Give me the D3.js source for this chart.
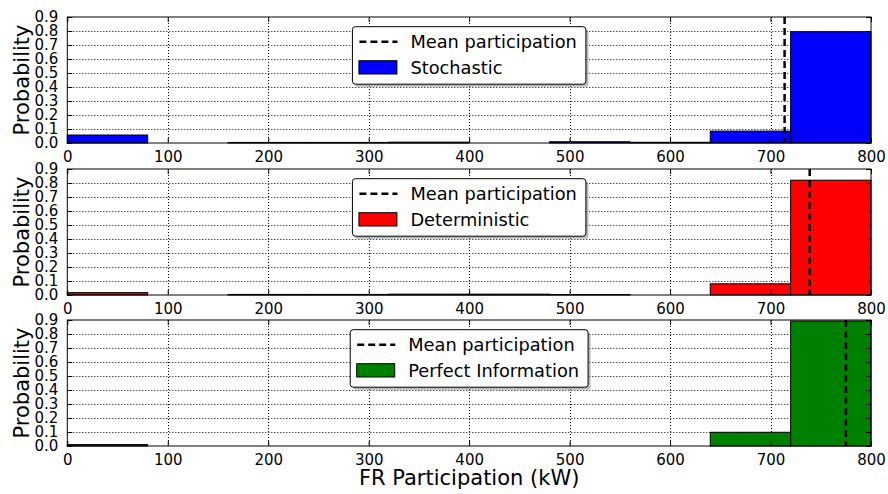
<!DOCTYPE html>
<html><head><meta charset="utf-8">
<script src="https://cdn.jsdelivr.net/npm/d3@7"></script>
<style>body{margin:0;background:#fff}svg{display:block;font-family:"DejaVu Sans",sans-serif}</style>
</head><body><svg id="c" width="888" height="494"></svg>
<script>
const binEdges = [0,80,160,240,320,400,480,560,640,720,800];
const stochastic    = [0.057,0,0.004,0.004,0.006,0,0.009,0.005,0.085,0.795];
const deterministic = [0.017,0,0.004,0.004,0.006,0.006,0.003,0,0.080,0.820];
const perfectInfo   = [0.010,0,0,0,0,0,0,0,0.098,0.893];
const meanValues = [714, 739, 775];
const seriesNames = ["Stochastic","Deterministic","Perfect Information"];
const seriesColors = ["#0000ff","#ff0000","#008000"];
const xTicks = [0,100,200,300,400,500,600,700,800];
const yTicks = [0,0.1,0.2,0.3,0.4,0.5,0.6,0.7,0.8,0.9];
const meanLabel = "Mean participation";
const yLabel = "Probability";
const xLabel = "FR Participation (kW)";

const allSeries = [stochastic, deterministic, perfectInfo];
const svg = d3.select("#c");
const left = 67.3, right = 871;
const tops = [17, 169, 320];
const ph = 126;

const x = d3.scaleLinear().domain([0,800]).range([left,right]);

allSeries.forEach((vals, i) => {
  const top = tops[i], bot = top + ph;
  const y = d3.scaleLinear().domain([0,0.9]).range([bot, top]);
  const g = svg.append("g");
  // grid
  g.selectAll(".gx").data(xTicks.slice(1,-1)).enter().append("line")
    .attr("x1", d=>Math.round(x(d))+0.5).attr("x2", d=>Math.round(x(d))+0.5).attr("y1", top).attr("y2", bot)
    .attr("stroke","#000").attr("stroke-width",1).attr("stroke-dasharray","1,2");
  g.selectAll(".gy").data(yTicks.slice(1,-1)).enter().append("line")
    .attr("x1", left).attr("x2", right).attr("y1", d=>Math.round(y(d))+0.5).attr("y2", d=>Math.round(y(d))+0.5)
    .attr("stroke","#000").attr("stroke-width",1).attr("stroke-dasharray","1,2");
  // bars
  const bins = vals.map((v,k)=>({x0:binEdges[k], x1:binEdges[k+1], v})).filter(b=>b.v>0);
  g.selectAll(".bar").data(bins).enter().append("rect")
    .attr("x", d=>x(d.x0)).attr("width", d=>x(d.x1)-x(d.x0))
    .attr("y", d=>y(d.v)).attr("height", d=>y(0)-y(d.v))
    .attr("fill", seriesColors[i]).attr("stroke","#000").attr("stroke-width",1);
  // mean line
  g.append("line").attr("x1", x(meanValues[i])).attr("x2", x(meanValues[i]))
    .attr("y1", top).attr("y2", bot).attr("stroke","#000").attr("stroke-width",2.5)
    .attr("stroke-dasharray","7,4");
  // axes with inward ticks
  const axB = d3.axisBottom(x).tickValues(xTicks).tickSize(-5).tickPadding(8).tickFormat(d3.format("d"));
  const axT = d3.axisTop(x).tickValues(xTicks).tickSize(-5).tickFormat("");
  const axL = d3.axisLeft(y).tickValues(yTicks).tickSize(-5).tickPadding(9).tickFormat(d3.format(".1f"));
  const axR = d3.axisRight(y).tickValues(yTicks).tickSize(-5).tickFormat("");
  const styleAx = sel => { sel.select(".domain").remove(); sel.selectAll("line").attr("stroke","#000");
    sel.selectAll("text").attr("fill","#000").style("font-size","15px").style("font-family","DejaVu Sans"); };
  g.append("g").attr("transform",`translate(0,${bot})`).call(axB).call(styleAx);
  g.append("g").attr("transform",`translate(0,${top})`).call(axT).call(styleAx);
  g.append("g").attr("transform",`translate(${left},0)`).call(axL).call(styleAx);
  g.append("g").attr("transform",`translate(${right},0)`).call(axR).call(styleAx);
  // frame
  g.append("rect").attr("x",left).attr("y",top).attr("width",right-left).attr("height",ph)
    .attr("fill","none").attr("stroke","#000").attr("stroke-width",1);
  // y label
  g.append("text").attr("transform",`translate(28.5,${(top+bot)/2}) rotate(-90)`)
    .attr("text-anchor","middle").style("font-size","21px").text(yLabel);

  // legend
  const lg = svg.append("g");
  const fs = 17.8;
  const t1 = lg.append("text").attr("y",0).style("font-size",fs+"px").text(meanLabel);
  const t2 = lg.append("text").attr("y",0).style("font-size",fs+"px").text(seriesNames[i]);
  const tw = Math.max(t1.node().getComputedTextLength(), t2.node().getComputedTextLength());
  const bw = 6 + 38 + 14 + tw + 9;
  const bh = 57.5;
  const cx = (left+right)/2;
  const bx = cx - bw/2, by = top + 9.7;
  lg.insert("rect",":first-child").attr("x",bx+2.5).attr("y",by+2.5).attr("width",bw).attr("height",bh)
    .attr("rx",3).attr("fill","#888").attr("opacity",0.6);
  lg.insert("rect","text").attr("x",bx).attr("y",by).attr("width",bw).attr("height",bh)
    .attr("rx",3).attr("fill","#fff").attr("stroke","#000").attr("stroke-width",1);
  const r1 = by + 15, r2 = by + 40.6;
  lg.append("line").attr("x1",bx+7).attr("x2",bx+45).attr("y1",r1).attr("y2",r1)
    .attr("stroke","#000").attr("stroke-width",2.5).attr("stroke-dasharray","7,4");
  lg.append("rect").attr("x",bx+6.5).attr("y",r2-6.6).attr("width",38).attr("height",13.3)
    .attr("fill",seriesColors[i]).attr("stroke","#000").attr("stroke-width",1);
  t1.attr("x",bx+58).attr("y",r1).attr("dy","0.35em");
  t2.attr("x",bx+58).attr("y",r2).attr("dy","0.35em");
});

svg.append("text").attr("x",(left+right)/2).attr("y",485).attr("text-anchor","middle")
  .style("font-size","21px").text(xLabel);
</script></body></html>
